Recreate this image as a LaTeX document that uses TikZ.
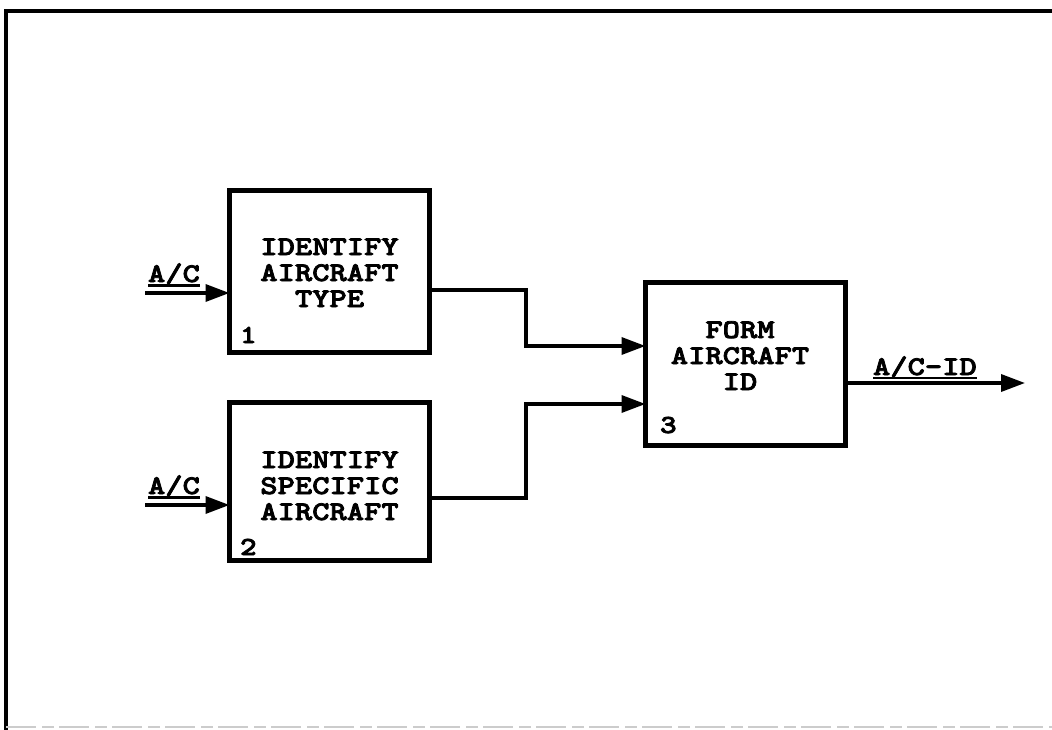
\documentclass[tikz,border=0pt]{standalone}
\usepackage{fontspec}
\newfontfamily\cour[Extension=.otf, FakeStretch=1.22, FakeBold=2.8]{lmmonolt10-bold}
\usetikzlibrary{arrows.meta}
\begin{document}
\begin{tikzpicture}[x=1pt,y=-1pt,
  every node/.style={inner sep=0pt,outer sep=0pt},
  txt/.style={font=\cour\fontsize{27}{28}\selectfont, anchor=base},
  lab/.style={font=\cour\fontsize{27}{28}\selectfont, anchor=base west},
  num/.style={font=\cour\fontsize{26}{26}\selectfont, anchor=base west},
  boxnode/.style={draw, line width=5pt, anchor=north west},
  conn/.style={line width=3.5pt, -{Triangle[length=24pt,width=17pt]}},
  uline/.style={line width=2.5pt},
  frame/.style={line width=4.5pt}]
\useasboundingbox (0,0) rectangle (1052,730);
% frame
\coordinate (fTL) at (6,11);
\coordinate (fTR) at (1052,11);
\coordinate (fBL) at (6,730);
\coordinate (bL) at (6,727);
\coordinate (bR) at (1052,727);
\draw[frame] (fBL) -- (fTL) -- (fTR);
\draw[line width=2pt, gray!40, dash pattern=on 30pt off 6pt on 12pt off 5pt] (bL) -- (bR);
% boxes
\node[boxnode, minimum width=200pt, minimum height=162pt] (b1) at (229.5,190.5) {};
\node[boxnode, minimum width=200pt, minimum height=158pt] (b2) at (229.5,402.5) {};
\node[boxnode, minimum width=200pt, minimum height=163pt] (b3) at (645.5,282.5) {};
% texts
\node[txt] (t1a) at (329.5,255) {IDENTIFY};
\node[txt] (t1b) at (329.5,281) {AIRCRAFT};
\node[txt] (t1c) at (329.5,307) {TYPE};
\node[txt] (t2a) at (329.5,468) {IDENTIFY};
\node[txt] (t2b) at (329.5,494) {SPECIFIC};
\node[txt] (t2c) at (329.5,520) {AIRCRAFT};
\node[txt] (t3a) at (740,338) {FORM};
\node[txt] (t3b) at (740,364) {AIRCRAFT};
\node[txt] (t3c) at (740,390) {ID};
\node[num] (n1) at (240,343) {1};
\node[num] (n2) at (240,555) {2};
\node[num] (n3) at (660,433) {3};
% inputs
\coordinate (in1) at (145,293);
\coordinate (in2) at (145,505);
\draw[conn] (in1) -- (in1 -| b1.west);
\draw[conn] (in2) -- (in2 -| b2.west);
\node[lab] (l1) at (148,282) {A/C};
\node[lab] (l2) at (148,494) {A/C};
\draw[uline] ([yshift=-3.5pt]l1.base west) -- ([yshift=-3.5pt]l1.base east);
\draw[uline] ([yshift=-3.5pt]l2.base west) -- ([yshift=-3.5pt]l2.base east);
% connections
\coordinate (o1) at (430,290);
\coordinate (o2) at (430,498);
\coordinate (j1) at (526,346);
\coordinate (j2) at (526,404);
\draw[conn] (o1 -| b1.east) -| (j1) -- (j1 -| b3.west);
\draw[conn] (o2 -| b2.east) -| (j2) -- (j2 -| b3.west);
% output
\coordinate (outE) at (1025,383);
\draw[conn] (outE -| b3.east) -- (outE);
\node[lab] (l3) at (873,375) {A/C-ID};
\draw[uline] ([yshift=-3pt]l3.base west) -- ([yshift=-3pt]l3.base east);
\end{tikzpicture}
\end{document}
